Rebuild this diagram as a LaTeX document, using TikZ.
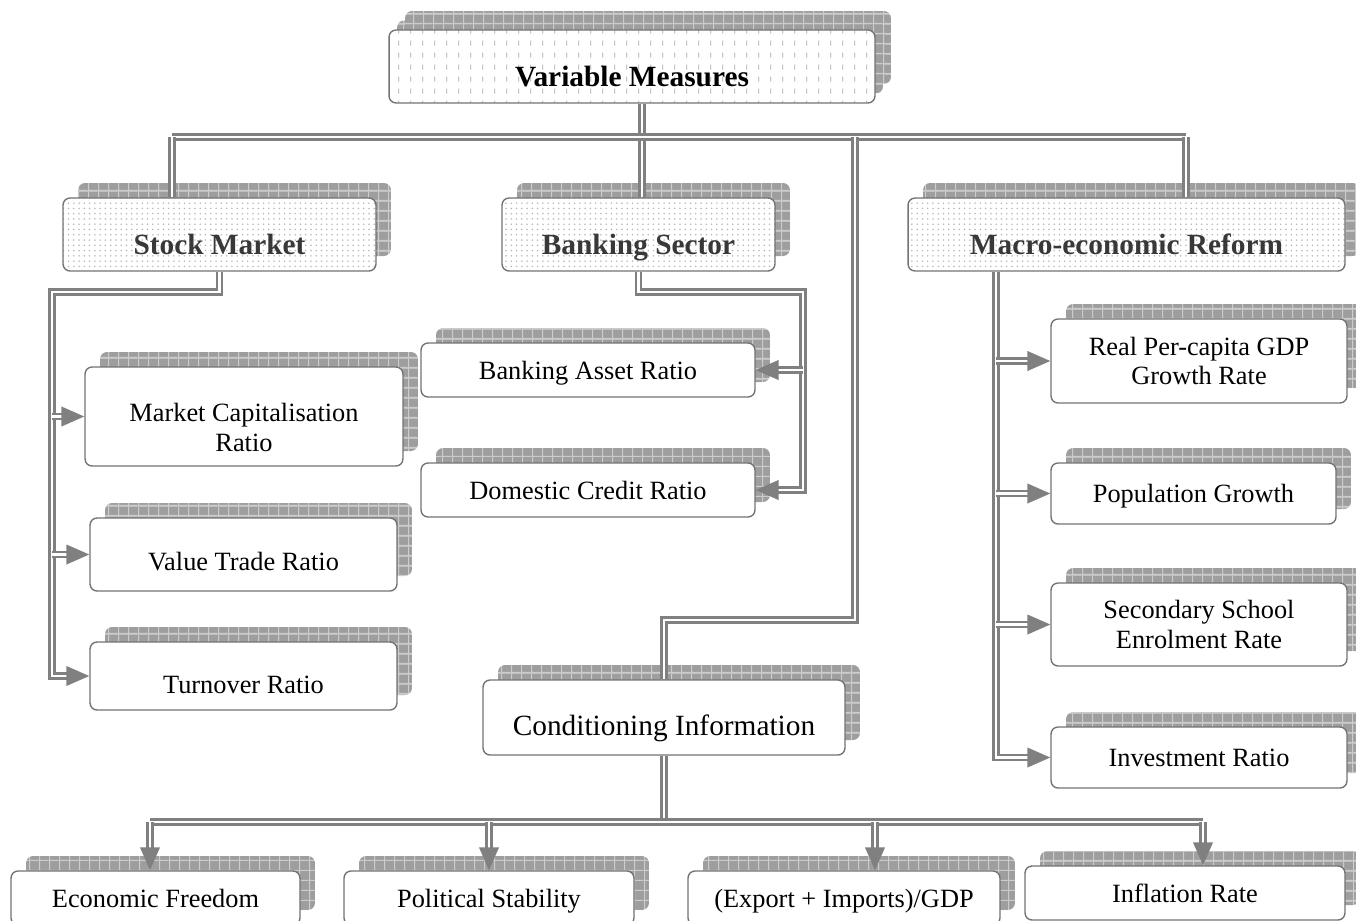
\documentclass[tikz,border=0pt]{standalone}
\usepackage{fontspec}
\setmainfont{Liberation Serif}
\usetikzlibrary{arrows.meta,shadows,patterns}

\definecolor{shadegray}{gray}{0.62}
\definecolor{shadeline}{gray}{0.80}
\pgfdeclarepatterninherentlycolored{shadowgrid}{\pgfpointorigin}{\pgfqpoint{5.6pt}{5.6pt}}{\pgfqpoint{5.6pt}{5.6pt}}{
  \pgfsetfillcolor{shadegray}
  \pgfpathrectangle{\pgfpointorigin}{\pgfqpoint{5.6pt}{5.6pt}}
  \pgfusepath{fill}
  \pgfsetstrokecolor{shadeline}
  \pgfsetlinewidth{0.6pt}
  \pgfpathmoveto{\pgfqpoint{0pt}{0.3pt}}\pgfpathlineto{\pgfqpoint{5.6pt}{0.3pt}}
  \pgfpathmoveto{\pgfqpoint{0.3pt}{0pt}}\pgfpathlineto{\pgfqpoint{0.3pt}{5.6pt}}
  \pgfusepath{stroke}}
\pgfdeclarepatternformonly{vdashes}{\pgfqpoint{0pt}{0pt}}{\pgfqpoint{7pt}{7pt}}{\pgfqpoint{7pt}{7pt}}{
  \pgfsetlinewidth{0.5pt}
  \pgfpathmoveto{\pgfqpoint{3.5pt}{2pt}}\pgfpathlineto{\pgfqpoint{3.5pt}{5pt}}
  \pgfusepath{stroke}}

\begin{document}
\begin{tikzpicture}[x=0.02cm,y=-0.02cm,
    plain/.style={draw=gray!90!black, line width=0.8pt, rounded corners=4pt, fill=white,
      align=center, inner sep=2pt, font=\fontsize{15}{17}\selectfont},
    gridshadow/.style={shadow xshift=0.3cm, shadow yshift=0.3cm, draw=none, pattern=shadowgrid},
    box/.style={plain, copy shadow={gridshadow}},
    oneline/.style={text height=10.5pt, text depth=0pt},
    head/.style={box, preaction={fill=white}, pattern=dots, pattern color=gray!55,
      font=\fontsize{16.7}{19}\selectfont\bfseries, text=black!78, text height=23pt, text depth=0pt},
    link/.style={draw=gray, line width=1.4pt, double=white, double distance=1.3pt},
    tip/.style={-{Triangle[length=13pt,width=11pt]}}]
\useasboundingbox (0,0) rectangle (1356,920);

\node[plain, double copy shadow={gridshadow, shadow xshift=0.16cm, shadow yshift=0.19cm},
  preaction={fill=white}, pattern=vdashes, pattern color=gray!70,
  font=\fontsize{16.7}{19}\selectfont\bfseries, text height=23pt, text depth=0pt,
  minimum width=9.72cm, minimum height=1.46cm] (vm) at (632,66.5) {Variable Measures};

\node[head, minimum width=6.26cm, minimum height=1.46cm] (sm) at (219.5,234.5) {Stock Market};
\node[head, minimum width=5.46cm, minimum height=1.46cm] (bs) at (638.5,234.5) {Banking Sector};
\node[head, minimum width=8.74cm, minimum height=1.46cm] (mr) at (1126.5,234.5) {Macro-economic Reform};

\node[box, text height=40pt, text depth=0pt, minimum width=6.36cm, minimum height=1.98cm] (mcr) at (244,416.5) {Market Capitalisation\\Ratio};
\node[box, text height=18pt, text depth=0pt, minimum width=6.14cm, minimum height=1.46cm] (vtr) at (243.5,554.5) {Value Trade Ratio};
\node[box, text height=20pt, text depth=0pt, minimum width=6.14cm, minimum height=1.36cm] (tr) at (243.5,676) {Turnover Ratio};

\node[box, oneline, minimum width=6.68cm, minimum height=1.08cm] (bar) at (588,370) {Banking Asset Ratio};
\node[box, oneline, minimum width=6.68cm, minimum height=1.08cm] (dcr) at (588,490) {Domestic Credit Ratio};

\node[box, minimum width=5.92cm, minimum height=1.68cm] (rpg) at (1199,361) {Real Per-capita GDP\\Growth Rate};
\node[box, oneline, minimum width=5.70cm, minimum height=1.22cm] (pg) at (1193.5,493.5) {Population Growth};
\node[box, minimum width=5.92cm, minimum height=1.66cm] (sse) at (1199,624.5) {Secondary School\\Enrolment Rate};
\node[box, oneline, minimum width=5.92cm, minimum height=1.22cm] (ir) at (1199,757.5) {Investment Ratio};

\node[box, text height=20pt, text depth=0pt, minimum width=7.24cm, minimum height=1.50cm,
  font=\fontsize{16.7}{19}\selectfont] (ci) at (664,717.5) {Conditioning Information};

\node[box, oneline, minimum width=5.78cm, minimum height=1.08cm] (ef) at (155.5,898) {Economic Freedom};
\node[box, oneline, minimum width=5.80cm, minimum height=1.08cm] (ps) at (489,898) {Political Stability};
\node[box, oneline, minimum width=6.24cm, minimum height=1.08cm] (eig) at (844,898) {(Export + Imports)/GDP};
\node[box, oneline, minimum width=6.40cm, minimum height=1.08cm] (ifr) at (1185,893) {Inflation Rate};

\coordinate (vmx) at (642,0);
\coordinate (busL) at (172,137);
\coordinate (busR) at (1186,137);
\coordinate (ciBend) at (855,620);
\coordinate (smBend) at (52,292);
\coordinate (bsBend) at (803,292);
\coordinate (mrx) at (996,0);
\coordinate (ciBus) at (150,822);
\coordinate (ciBusR) at (1203,822);
\coordinate (eigx) at (875,822);

\draw[link] (vm.south -| vmx) -- (bs.north -| vmx);
\draw[link] (busL) -- (busR);
\draw[link] (busL) -- (busL |- sm.north);
\draw[link] (busR) -- (busR |- mr.north);
\draw[link] (ciBend |- busL) -- (ciBend) -- (ci.north |- ciBend) -- (ci.north);

\draw[link,tip] (sm.south) -- (sm.south |- smBend) -- (smBend) |- (tr.west);
\draw[link,tip] (mcr.west -| smBend) -- (mcr.west);
\draw[link,tip] (vtr.west -| smBend) -- (vtr.west);

\draw[link,tip] (bs.south) -- (bs.south |- bsBend) -- (bsBend) |- (dcr.east);
\draw[link,tip] (bar.east -| bsBend) -- (bar.east);

\draw[link,tip] (mr.south -| mrx) |- (ir.west);
\draw[link,tip] (rpg.west -| mrx) -- (rpg.west);
\draw[link,tip] (pg.west -| mrx) -- (pg.west);
\draw[link,tip] (sse.west -| mrx) -- (sse.west);

\draw[link] (ci.south) -- (ci.south |- ciBus);
\draw[link] (ciBus) -- (ciBusR);
\draw[link,tip] (ciBus) -- (ciBus |- ef.north);
\draw[link,tip] (ps.north |- ciBus) -- (ps.north);
\draw[link,tip] (eigx) -- (eigx |- eig.north);
\draw[link,tip] (ciBusR) -- (ciBusR |- ifr.north);

\end{tikzpicture}
\end{document}
